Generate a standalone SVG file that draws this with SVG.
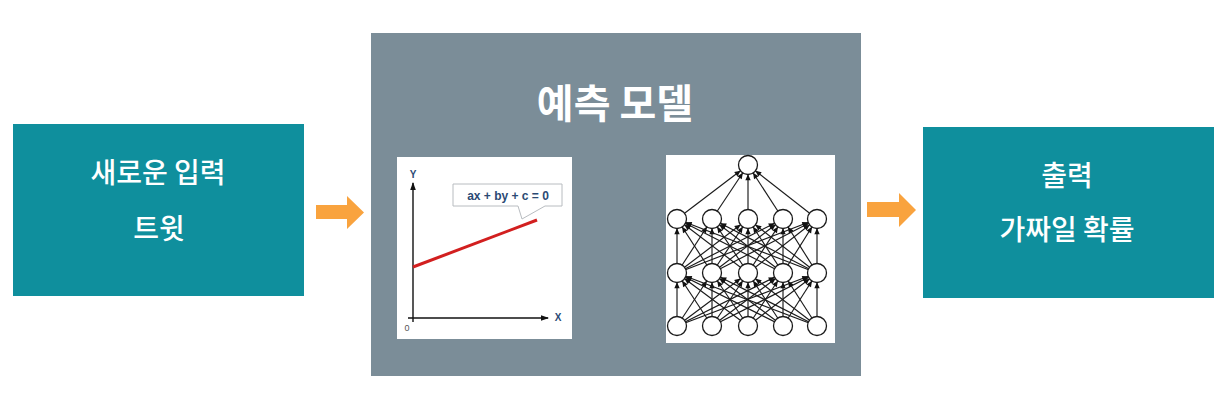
<svg xmlns="http://www.w3.org/2000/svg" width="1220" height="410" viewBox="0 0 1220 410">
<style>
.box{fill:#0f8f9d}
.bt{font-family:"Noto Sans CJK KR","Noto Sans",sans-serif;font-size:28px;font-weight:500;fill:#ffffff;text-anchor:middle}
.title{font-family:"Noto Sans CJK KR","Noto Sans",sans-serif;font-size:40px;font-weight:700;fill:#ffffff;text-anchor:middle}
.flow{fill:#f9a33e}
.ax{stroke:#111;stroke-width:1.4;fill:none}
.lbl{font-family:"Liberation Sans",Arial,sans-serif;font-weight:700;fill:#2b4a74}
.nn line{stroke:#1a1a1a;stroke-width:1.15;marker-end:url(#nh)}
.nn circle{fill:#fff;stroke:#1a1a1a;stroke-width:1.3}
</style>
<defs>
<marker id="ah" viewBox="0 0 8 8" refX="7" refY="4" markerWidth="8" markerHeight="8" markerUnits="userSpaceOnUse" orient="auto">
<path d="M0,1.2 L8,4 L0,6.8 Z" fill="#111"/>
</marker>
<marker id="nh" viewBox="0 0 16 6" refX="15.3" refY="3" markerWidth="16" markerHeight="6" markerUnits="userSpaceOnUse" orient="auto" overflow="visible">
<path d="M0,0.3 L6,3 L0,5.7 Z" fill="#111"/>
</marker>
</defs>
<rect width="1220" height="410" fill="#ffffff"/>

<g id="input">
<rect class="box" x="13" y="124" width="291" height="172"/>
<text class="bt" x="158" y="183">새로운 입력</text>
<text class="bt" x="159" y="239">트윗</text>
</g>

<g id="model">
<rect x="371" y="33" width="490" height="343" fill="#7b8d98"/>
<text class="title" x="615" y="118">예측 모델</text>
<g id="linear">
<rect x="397" y="157" width="175" height="182" fill="#ffffff"/>
<line class="ax" x1="413" y1="322" x2="413" y2="183" marker-end="url(#ah)"/>
<line class="ax" x1="408" y1="318" x2="548" y2="318" marker-end="url(#ah)"/>
<text class="lbl" x="413" y="178" font-size="10" text-anchor="middle">Y</text>
<text class="lbl" x="558" y="321" font-size="10" text-anchor="middle">X</text>
<text x="407" y="331" font-family="Liberation Sans,Arial,sans-serif" font-size="9" fill="#555" text-anchor="middle">0</text>
<line x1="413" y1="267" x2="537" y2="220" stroke="#d21f1f" stroke-width="3"/>
<path d="M453,184 H562 V206 H545 L522,219 L518,206 H453 Z" fill="#ffffff" stroke="#b8bcc0" stroke-width="1"/>
<text class="lbl" x="508" y="200" font-size="12" text-anchor="middle">ax + by + c = 0</text>
</g>
<g id="nn" class="nn">
<rect x="666" y="155" width="169" height="188" fill="#ffffff"/>
<line x1="677" y1="326" x2="677" y2="273"/><line x1="677" y1="326" x2="712" y2="273"/><line x1="677" y1="326" x2="748" y2="273"/><line x1="677" y1="326" x2="783" y2="273"/><line x1="677" y1="326" x2="817" y2="273"/>
<line x1="712" y1="326" x2="677" y2="273"/><line x1="712" y1="326" x2="712" y2="273"/><line x1="712" y1="326" x2="748" y2="273"/><line x1="712" y1="326" x2="783" y2="273"/><line x1="712" y1="326" x2="817" y2="273"/>
<line x1="748" y1="326" x2="677" y2="273"/><line x1="748" y1="326" x2="712" y2="273"/><line x1="748" y1="326" x2="748" y2="273"/><line x1="748" y1="326" x2="783" y2="273"/><line x1="748" y1="326" x2="817" y2="273"/>
<line x1="783" y1="326" x2="677" y2="273"/><line x1="783" y1="326" x2="712" y2="273"/><line x1="783" y1="326" x2="748" y2="273"/><line x1="783" y1="326" x2="783" y2="273"/><line x1="783" y1="326" x2="817" y2="273"/>
<line x1="817" y1="326" x2="677" y2="273"/><line x1="817" y1="326" x2="712" y2="273"/><line x1="817" y1="326" x2="748" y2="273"/><line x1="817" y1="326" x2="783" y2="273"/><line x1="817" y1="326" x2="817" y2="273"/>
<line x1="677" y1="273" x2="677" y2="219"/><line x1="677" y1="273" x2="712" y2="219"/><line x1="677" y1="273" x2="748" y2="219"/><line x1="677" y1="273" x2="783" y2="219"/><line x1="677" y1="273" x2="817" y2="219"/>
<line x1="712" y1="273" x2="677" y2="219"/><line x1="712" y1="273" x2="712" y2="219"/><line x1="712" y1="273" x2="748" y2="219"/><line x1="712" y1="273" x2="783" y2="219"/><line x1="712" y1="273" x2="817" y2="219"/>
<line x1="748" y1="273" x2="677" y2="219"/><line x1="748" y1="273" x2="712" y2="219"/><line x1="748" y1="273" x2="748" y2="219"/><line x1="748" y1="273" x2="783" y2="219"/><line x1="748" y1="273" x2="817" y2="219"/>
<line x1="783" y1="273" x2="677" y2="219"/><line x1="783" y1="273" x2="712" y2="219"/><line x1="783" y1="273" x2="748" y2="219"/><line x1="783" y1="273" x2="783" y2="219"/><line x1="783" y1="273" x2="817" y2="219"/>
<line x1="817" y1="273" x2="677" y2="219"/><line x1="817" y1="273" x2="712" y2="219"/><line x1="817" y1="273" x2="748" y2="219"/><line x1="817" y1="273" x2="783" y2="219"/><line x1="817" y1="273" x2="817" y2="219"/>
<line x1="677" y1="219" x2="748" y2="165"/><line x1="712" y1="219" x2="748" y2="165"/><line x1="748" y1="219" x2="748" y2="165"/><line x1="783" y1="219" x2="748" y2="165"/><line x1="817" y1="219" x2="748" y2="165"/>
<circle cx="748" cy="165" r="9.5"/>
<circle cx="677" cy="219" r="9.5"/><circle cx="712" cy="219" r="9.5"/><circle cx="748" cy="219" r="9.5"/><circle cx="783" cy="219" r="9.5"/><circle cx="817" cy="219" r="9.5"/>
<circle cx="677" cy="273" r="9.5"/><circle cx="712" cy="273" r="9.5"/><circle cx="748" cy="273" r="9.5"/><circle cx="783" cy="273" r="9.5"/><circle cx="817" cy="273" r="9.5"/>
<circle cx="677" cy="326" r="9.5"/><circle cx="712" cy="326" r="9.5"/><circle cx="748" cy="326" r="9.5"/><circle cx="783" cy="326" r="9.5"/><circle cx="817" cy="326" r="9.5"/>
</g>
</g>

<g id="output">
<rect class="box" x="923" y="127" width="291" height="171"/>
<text class="bt" x="1067" y="186">출력</text>
<text class="bt" x="1067" y="240">가짜일 확률</text>
</g>

<g id="connectors">
<path class="flow" d="M316,205 H347 V196 L364,212.5 L347,229 V219 H316 Z"/>
<path class="flow" d="M867,202 H899 V193 L916,210 L899,227 V217 H867 Z"/>
</g>
</svg>
